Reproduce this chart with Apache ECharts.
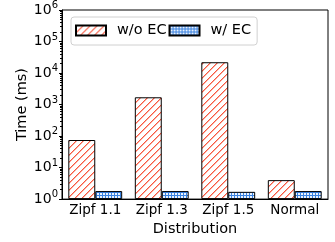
<!DOCTYPE html>
<html><head><meta charset="utf-8">
<script src="https://cdn.jsdelivr.net/npm/echarts@6/dist/echarts.min.js"></script>
<style>html,body{margin:0;padding:0;background:#fff}#c{width:335px;height:242px}</style>
</head><body><div id="c"></div>
<script>
const categories = ['Zipf 1.1', 'Zipf 1.3', 'Zipf 1.5', 'Normal'];
const withoutEC = [75, 1700, 22000, 4];
const withEC = [1.8, 1.8, 1.7, 1.8];
const seriesNames = ['w/o EC', 'w/ EC'];

function hatchPattern() {
  const n = 7;
  const c = document.createElement('canvas');
  c.width = n; c.height = n;
  const g = c.getContext('2d');
  g.fillStyle = '#ffffff'; g.fillRect(0, 0, n, n);
  g.fillStyle = 'rgba(250,110,90,0.55)';
  for (let i = 0; i < n; i++) g.fillRect((i + 1) % n, n - 1 - i, 1, 1);
  g.fillStyle = '#f8573e';
  for (let i = 0; i < n; i++) g.fillRect(i, n - 1 - i, 1, 1);
  return c;
}
function gridPattern() {
  const c = document.createElement('canvas');
  c.width = 3; c.height = 3;
  const g = c.getContext('2d');
  g.fillStyle = '#eaf2fd'; g.fillRect(0, 0, 3, 3);
  g.fillStyle = '#3a82e0';
  g.fillRect(0, 0, 3, 1);
  g.fillRect(0, 0, 1, 3);
  return c;
}
const redFill = { image: hatchPattern(), repeat: 'repeat' };
const blueFill = { image: gridPattern(), repeat: 'repeat' };

const chart = echarts.init(document.getElementById('c'), null, { renderer: 'canvas' });
const font = 'DejaVu Sans';
chart.setOption({
  animation: false,
  textStyle: { fontFamily: font },
  grid: { left: 62, right: 7, top: 10, bottom: 41, show: true, borderColor: '#000', borderWidth: 1, backgroundColor: 'transparent' },
  legend: {
    left: 71, top: 17, itemWidth: 30, itemHeight: 10, itemGap: 2,
    icon: 'rect',
    padding: [6, 6, 7, 4],
    borderColor: '#d0d0d0', borderWidth: 1, borderRadius: 3,
    textStyle: { fontFamily: font, fontSize: 14.5, color: '#000', padding: [0, 0, 0, 6] },
    data: seriesNames
  },
  xAxis: {
    type: 'category', data: categories,
    axisLine: { lineStyle: { color: '#000' } },
    axisTick: { show: false },
    axisLabel: { color: '#000', fontSize: 13.5, margin: 4, fontFamily: font, interval: 0, hideOverlap: false },
    name: 'Distribution', nameLocation: 'middle', nameGap: 21,
    nameTextStyle: { color: '#000', fontSize: 14.5, fontFamily: font }
  },
  yAxis: {
    type: 'log', min: 1, max: 1000000, logBase: 10, interval: 1,
    axisLine: { show: true, lineStyle: { color: '#000' } },
    axisTick: { show: true, length: 3, lineStyle: { color: '#000' } },
    minorTick: { show: true, splitNumber: 9, length: 2, lineStyle: { color: '#000' } },
    splitLine: { show: false },
    axisLabel: {
      margin: 4, color: '#000', fontFamily: font,
      formatter: function (v) {
        const e = Math.round(Math.log10(v));
        return '{b|10}{s|' + e + '}';
      },
      rich: {
        b: { fontSize: 14, color: '#000', fontFamily: font },
        s: { fontSize: 10, color: '#000', fontFamily: font, padding: [0, 0, 9, 0] }
      }
    },
    name: 'Time (ms)', nameLocation: 'middle', nameGap: 32, nameRotate: 90,
    nameMoveOverlap: false,
    nameTextStyle: { color: '#000', fontSize: 14.5, fontFamily: font }
  },
  series: [
    {
      name: seriesNames[0], type: 'bar', data: withoutEC,
      barGap: '0%', barCategoryGap: '19%',
      itemStyle: { color: redFill, borderColor: '#000', borderWidth: 1 }
    },
    {
      name: seriesNames[1], type: 'bar', data: withEC,
      itemStyle: { color: blueFill, borderColor: '#000', borderWidth: 1 }
    }
  ]
});
</script></body></html>
